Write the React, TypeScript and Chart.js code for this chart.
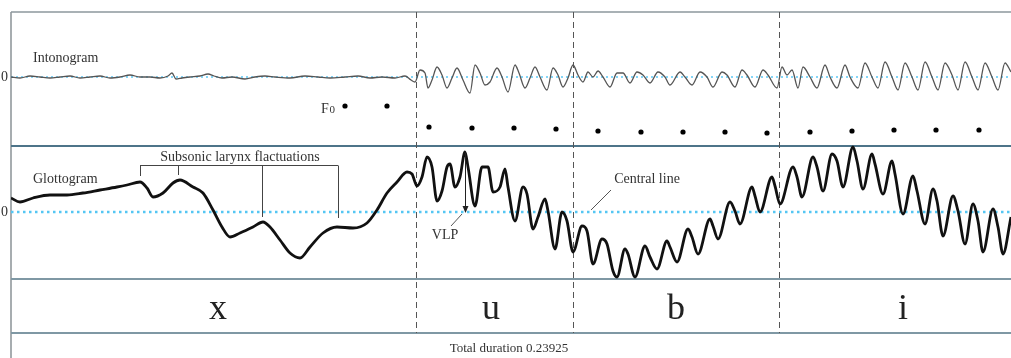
import React, { useEffect, useRef } from "react";
import { Chart, registerables } from "chart.js";
Chart.register(...registerables);

// x: time in thousandths of the total duration; amplitudes in arbitrary units
const TOTAL_DURATION = "0.23925";
const phonemes = ["x", "u", "b", "i"];
const phonemeBounds = [405, 562, 768];
const phonemeLabelAt = [207, 480, 665, 892];

const intonoTime = [0, 9, 19, 29, 39, 49, 59, 69, 79, 89, 99, 109, 119, 129, 139, 149, 157, 161, 165, 171, 179, 189, 197, 203, 211, 221, 234, 244, 254, 264, 279, 294, 307, 319, 334, 347, 359, 371, 384, 394, 400, 404, 409, 414, 417, 421, 426, 431, 436, 441, 446, 452, 459, 464, 469, 474, 479, 486, 491, 497, 504, 508, 514, 519, 524, 529, 536, 542, 547, 552, 557, 562, 567, 572, 577, 582, 587, 592, 599, 606, 612, 619, 626, 632, 639, 647, 654, 659, 669, 674, 681, 689, 696, 702, 711, 716, 724, 731, 736, 744, 752, 757, 766, 771, 776, 781, 787, 792, 799, 806, 814, 819, 826, 834, 839, 847, 854, 861, 867, 874, 881, 887, 894, 901, 907, 914, 921, 927, 934, 941, 947, 954, 961, 967, 974, 981, 987, 994, 1000];
const intonoAmp = [0, -1, 1, 0, -1, 0, 1, -1, 0, 1, -1, 0, 2, 0, 0, -1, 1, 4, -2, -1, 0, 1, 3, 1, -1, 0, -2, 0, 1, 0, -1, 1, 0, -1, 0, 1, -1, 0, -1, 1, -3, -5, 7, 4, -11, -3, 10, 2, -11, -1, 9, -3, -16, 12, 4, -8, -5, 9, 0, -15, 12, 4, -11, -1, 10, 0, -13, 9, 2, -10, -1, 12, 2, -5, 5, 0, 6, 0, -10, 4, 4, -6, 5, 2, -6, 5, 0, -8, 5, 0, -8, 5, 0, -10, 5, 2, -10, 7, 2, -10, 7, 2, -11, 10, 2, 7, -11, 10, 0, -11, 12, 0, -11, 12, 0, -11, 14, 0, -11, 15, 0, -13, 14, 0, -13, 15, 0, -13, 14, 2, -13, 15, 0, -13, 14, 0, -13, 14, 5];

const glottoTime = [0, 9, 22, 39, 56, 72, 89, 106, 116, 129, 136, 142, 152, 162, 169, 182, 192, 202, 211, 219, 229, 242, 252, 259, 269, 279, 289, 299, 312, 326, 342, 356, 366, 376, 386, 396, 401, 406, 411, 416, 421, 426, 431, 436, 439, 444, 449, 454, 457, 464, 471, 477, 482, 489, 494, 497, 504, 512, 516, 522, 527, 534, 537, 544, 551, 556, 562, 571, 576, 582, 591, 596, 602, 606, 614, 617, 624, 634, 639, 646, 656, 659, 666, 677, 681, 687, 699, 702, 707, 719, 724, 729, 741, 744, 749, 761, 764, 769, 782, 786, 791, 802, 806, 812, 821, 826, 832, 842, 846, 852, 861, 864, 872, 881, 884, 892, 902, 906, 914, 922, 926, 932, 942, 947, 954, 962, 967, 972, 982, 987, 992, 1000];
const glottoAmp = [14, 10, 14, 17, 17, 19, 22, 25, 27, 30, 24, 15, 19, 29, 32, 25, 19, 2, -15, -25, -21, -15, -10, -15, -28, -41, -46, -35, -21, -15, -16, -11, 2, 19, 30, 40, 38, 26, 35, 55, 45, 11, 21, 45, 48, 25, 35, 60, 45, 6, 45, 45, 20, 25, 43, 25, -9, 25, 18, -17, -5, 13, 1, -37, 0, -9, -40, -14, -19, -52, -27, -32, -59, -65, -37, -42, -65, -34, -45, -57, -29, -35, -50, -17, -25, -42, -7, -14, -27, 10, 1, -12, 25, 16, 0, 35, 26, 8, 45, 35, 15, 55, 45, 21, 58, 51, 25, 65, 51, 23, 58, 48, 18, 51, 38, -2, 36, 21, -12, 23, 11, -24, 16, 1, -32, 8, -9, -40, 3, -15, -42, -5];

const f0Time = [334, 376, 418, 461, 503, 545, 587, 630, 672, 714, 756, 799, 841, 883, 925, 968];
const f0Level = [40, 40, 19, 18, 18, 17, 15, 14, 14, 14, 13, 14, 15, 16, 16, 16];

// vertical layout (data units of the shared y scale)
const INTONO_ZERO = 281;
const GLOTTO_ZERO = 146;
const F0_BASE = 212;
const panelLines = [346, 212, 79, 25];

const SERIF = '"Liberation Serif", "DejaVu Serif", serif';

const annotPlugin = {
  id: "annot",
  beforeDatasetsDraw(chart: any) {
    const { ctx, chartArea: a, scales } = chart;
    const X = (v: number) => scales.x.getPixelForValue(v);
    const Y = (v: number) => scales.y.getPixelForValue(v);
    ctx.save();
    ctx.strokeStyle = "#8a9296";
    ctx.lineWidth = 1.5;
    ctx.beginPath();
    ctx.moveTo(a.left, a.top);
    ctx.lineTo(a.left, a.bottom);
    ctx.stroke();
    const styles: [string, number][] = [
      ["#8c979c", 1.5],
      ["#4d7489", 2],
      ["#7f98a4", 2],
      ["#7f98a4", 2],
    ];
    panelLines.forEach((v, i) => {
      ctx.strokeStyle = styles[i][0];
      ctx.lineWidth = styles[i][1];
      ctx.beginPath();
      ctx.moveTo(a.left, Y(v));
      ctx.lineTo(a.right, Y(v));
      ctx.stroke();
    });
    ctx.strokeStyle = "#555";
    ctx.lineWidth = 1;
    ctx.setLineDash([6, 4]);
    phonemeBounds.forEach((b) => {
      const px = Math.round(X(b)) + 0.5;
      ctx.beginPath();
      ctx.moveTo(px, Y(346));
      ctx.lineTo(px, Y(25));
      ctx.stroke();
    });
    ctx.restore();
  },
  afterDatasetsDraw(chart: any) {
    const { ctx, scales } = chart;
    const X = (v: number) => scales.x.getPixelForValue(v);
    const Y = (v: number) => scales.y.getPixelForValue(v);
    ctx.save();
    ctx.fillStyle = "#333";
    ctx.textBaseline = "middle";
    ctx.font = `14px ${SERIF}`;
    ctx.textAlign = "left";
    ctx.fillText("Intonogram", X(22), Y(300));
    ctx.fillText("Glottogram", X(22), Y(179));
    ctx.fillText("0", X(-10), Y(INTONO_ZERO));
    ctx.fillText("0", X(-10), Y(GLOTTO_ZERO));
    ctx.font = `14px ${SERIF}`;
    ctx.fillText("F", X(310), Y(249));
    ctx.font = `11px ${SERIF}`;
    ctx.fillText("0", X(318.5), Y(248));
    ctx.font = `14px ${SERIF}`;
    ctx.textAlign = "center";
    ctx.fillText("Subsonic larynx flactuations", X(229), Y(201));
    ctx.strokeStyle = "#444";
    ctx.lineWidth = 1;
    ctx.beginPath();
    const by = Math.round(Y(193)) + 0.5;
    ctx.moveTo(X(129), by);
    ctx.lineTo(X(327), by);
    const ticks: [number, number][] = [[129, 182], [167, 183], [251, 141], [327, 140]];
    ticks.forEach(([tx, ty]) => {
      const px = Math.round(X(tx)) + 0.5;
      ctx.moveTo(px, by);
      ctx.lineTo(px, Y(ty));
    });
    ctx.stroke();
    ctx.strokeStyle = "#222";
    ctx.beginPath();
    const vx = Math.round(X(454)) + 0.5;
    ctx.moveTo(vx, Y(205));
    ctx.lineTo(vx, Y(150));
    ctx.stroke();
    ctx.fillStyle = "#222";
    ctx.beginPath();
    ctx.moveTo(vx - 3, Y(152));
    ctx.lineTo(vx + 3, Y(152));
    ctx.lineTo(vx, Y(145));
    ctx.closePath();
    ctx.fill();
    ctx.strokeStyle = "#555";
    ctx.beginPath();
    ctx.moveTo(X(451), Y(144));
    ctx.lineTo(X(440), Y(132));
    ctx.stroke();
    ctx.fillStyle = "#333";
    ctx.fillText("VLP", X(434), Y(123));
    ctx.fillText("Central line", X(636), Y(179));
    ctx.beginPath();
    ctx.moveTo(X(600), Y(168));
    ctx.lineTo(X(580), Y(148));
    ctx.stroke();
    ctx.font = `36px ${SERIF}`;
    ctx.textBaseline = "alphabetic";
    ctx.fillStyle = "#222";
    phonemes.forEach((p, i) => ctx.fillText(p, X(phonemeLabelAt[i]), Y(39)));
    ctx.font = `13px ${SERIF}`;
    ctx.textBaseline = "middle";
    ctx.fillStyle = "#333";
    ctx.fillText(`Total duration ${TOTAL_DURATION}`, X(498), Y(9));
    ctx.restore();
  },
};

export default function App() {
  const ref = useRef<HTMLCanvasElement>(null);
  useEffect(() => {
    if (!ref.current) return;
    const intono = intonoTime.map((t, i) => ({ x: t, y: INTONO_ZERO + intonoAmp[i] }));
    const glotto = glottoTime.map((t, i) => ({ x: t, y: GLOTTO_ZERO + glottoAmp[i] }));
    const f0 = f0Time.map((t, i) => ({ x: t, y: F0_BASE + f0Level[i] }));
    const chart = new Chart(ref.current, {
      type: "line",
      data: {
        datasets: [
          {
            label: "Intonogram",
            data: intono,
            borderColor: "#555",
            borderWidth: 1.3,
            cubicInterpolationMode: "monotone",
            pointRadius: 0,
            order: 0,
          },
          {
            label: "Glottogram",
            data: glotto,
            borderColor: "#111",
            borderWidth: 2.8,
            cubicInterpolationMode: "monotone",
            pointRadius: 0,
            borderJoinStyle: "round",
            order: 0,
          },
          {
            label: "F0",
            data: f0,
            showLine: false,
            pointRadius: 2.6,
            pointBackgroundColor: "#000",
            pointBorderWidth: 0,
            order: 0,
          },
          {
            label: "zero-intono",
            data: [{ x: 0, y: INTONO_ZERO }, { x: 1000, y: INTONO_ZERO }],
            borderColor: "#5cc8f5",
            borderWidth: 1.5,
            borderDash: [2, 3],
            pointRadius: 0,
            order: 2,
          },
          {
            label: "zero-glotto",
            data: [{ x: 0, y: GLOTTO_ZERO }, { x: 1000, y: GLOTTO_ZERO }],
            borderColor: "#55c6f3",
            borderWidth: 2.5,
            borderDash: [2.5, 3.5],
            pointRadius: 0,
            order: 2,
          },
        ],
      },
      options: {
        animation: false,
        responsive: true,
        maintainAspectRatio: false,
        layout: { autoPadding: false, padding: { left: 11, top: 12, right: 0, bottom: 0 } },
        scales: {
          x: { type: "linear", min: 0, max: 1000, display: false },
          y: { type: "linear", min: 0, max: 346, display: false },
        },
        plugins: { legend: { display: false }, tooltip: { enabled: false } },
      },
      plugins: [annotPlugin],
    } as any);
    return () => chart.destroy();
  }, []);
  return (
    <div style={{ position: "fixed", left: 0, top: 0, width: 1011, height: 358, background: "#fff" }}>
      <canvas ref={ref} />
    </div>
  );
}
